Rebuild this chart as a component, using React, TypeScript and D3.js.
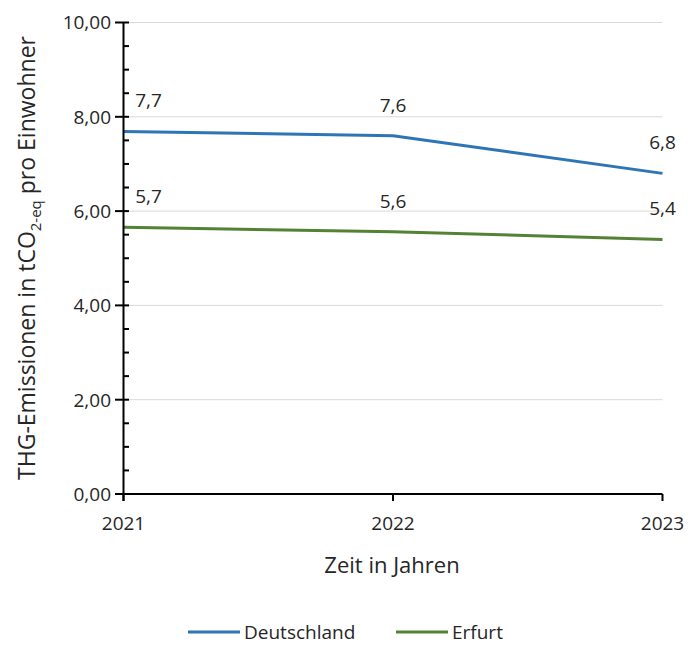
import React from "react";
import * as d3 from "d3";

const years = ["2021", "2022", "2023"];
const deutschland = [7.69, 7.6, 6.8];
const erfurt = [5.66, 5.56, 5.4];
const deutschlandLabels = ["7,7", "7,6", "6,8"];
const erfurtLabels = ["5,7", "5,6", "5,4"];
const yTicks = [0, 2, 4, 6, 8, 10];
const yMinorTicks = [0.5, 1, 1.5, 2.5, 3, 3.5, 4.5, 5, 5.5, 6.5, 7, 7.5, 8.5, 9, 9.5];
const seriesNames = ["Deutschland", "Erfurt"];
const colors = ["#2E75B6", "#548235"];

const W = 688;
const H = 645;
const FONT = "'Open Sans', 'DejaVu Sans', sans-serif";
const TXT = "#262626";

export default function App() {
  const x = d3.scalePoint<string>().domain(years).range([123.5, 662.5]);
  const y = d3.scaleLinear().domain([0, 10]).range([494, 22.5]);
  const line = d3
    .line<number>()
    .x((_, i) => x(years[i]) as number)
    .y((d) => y(d));
  const series = [deutschland, erfurt];
  const labels = [deutschlandLabels, erfurtLabels];
  const labelDx = [25, 0, 0];
  const fmt = (v: number) => v.toFixed(2).replace(".", ",");

  return (
    <svg width={W} height={H} style={{ position: "absolute", left: 0, top: 0, background: "#fff" }} fontFamily={FONT}>
      <rect width={W} height={H} fill="#fff" />
      {yTicks.filter((t) => t > 0).map((t) => (
        <line key={"g" + t} x1={x(years[0])} x2={x(years[2])} y1={y(t)} y2={y(t)} stroke="#D9D9D9" strokeWidth={1} />
      ))}
      {series.map((s, k) => (
        <path key={"l" + k} d={line(s) || ""} fill="none" stroke={colors[k]} strokeWidth={3} strokeLinejoin="round" />
      ))}
      <line x1={123.5} x2={123.5} y1={y(10)} y2={501} stroke="#000" strokeWidth={2} />
      {yTicks.map((t) => (
        <line key={"yt" + t} x1={115} x2={129} y1={y(t)} y2={y(t)} stroke="#000" strokeWidth={2} />
      ))}
      {yMinorTicks.map((t) => (
        <line key={"ym" + t} x1={123.5} x2={129} y1={y(t)} y2={y(t)} stroke="#000" strokeWidth={2} />
      ))}
      {yTicks.map((t) => (
        <text key={"yl" + t} x={111} y={y(t)} dy="0.36em" textAnchor="end" fontSize={19} fill={TXT}>
          {fmt(t)}
        </text>
      ))}
      <line x1={123.5} x2={662.5} y1={494} y2={494} stroke="#000" strokeWidth={2} />
      {years.map((yr) => (
        <line key={"xt" + yr} x1={x(yr)} x2={x(yr)} y1={494} y2={501} stroke="#000" strokeWidth={2} />
      ))}
      {years.map((yr) => (
        <text key={"xl" + yr} x={x(yr)} y={523} dy="0.36em" textAnchor="middle" fontSize={19} fill={TXT}>
          {yr}
        </text>
      ))}
      {series.map((s, k) =>
        s.map((v, i) => (
          <text key={"d" + k + i} x={(x(years[i]) as number) + labelDx[i]} y={y(v) - 31} dy="0.36em" textAnchor="middle" fontSize={19} fill={TXT}>
            {labels[k][i]}
          </text>
        ))
      )}
      <text x={392} y={565} dy="0.36em" textAnchor="middle" fontSize={22} fill={TXT}>
        Zeit in Jahren
      </text>
      <text transform="translate(27,258) rotate(-90)" textAnchor="middle" dy="0.36em" fontSize={23} fill={TXT}>
        THG-Emissionen in tCO
        <tspan fontSize={15} dy="6">2-eq</tspan>
        <tspan dy="-6"> pro Einwohner</tspan>
      </text>
      {seriesNames.map((n, k) => {
        const lx = k === 0 ? 188 : 396;
        return (
          <g key={"lg" + k}>
            <line x1={lx} x2={lx + 52} y1={632} y2={632} stroke={colors[k]} strokeWidth={3} />
            <text x={lx + 56} y={632} dy="0.35em" fontSize={19} fill={TXT}>
              {n}
            </text>
          </g>
        );
      })}
    </svg>
  );
}
